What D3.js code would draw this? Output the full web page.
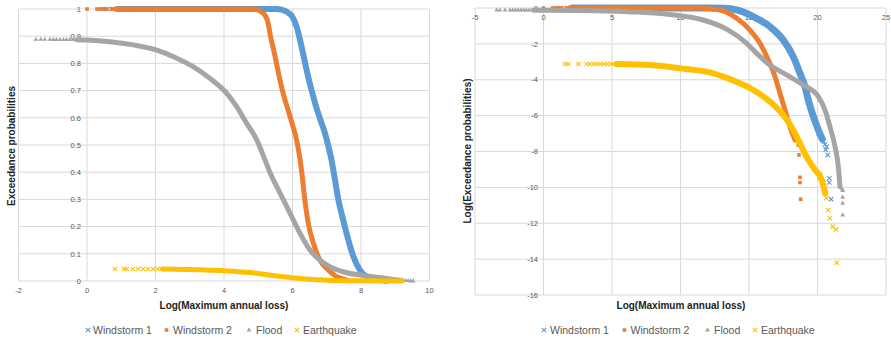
<!DOCTYPE html>
<html>
<head>
<meta charset="utf-8">
<script src="https://cdn.jsdelivr.net/npm/d3@7"></script>
<style>
  html, body { margin: 0; padding: 0; background: #fff; }
  svg { display: block; font-family: "Liberation Sans", Arial, sans-serif; }
</style>
</head>
<body>
<svg id="chart" width="891" height="338"></svg>
<script>
// ---- Series names and colours ----
const seriesNames = ["Windstorm 1", "Windstorm 2", "Flood", "Earthquake"];
const seriesColors = ["#5B9BD5", "#ED7D31", "#A5A5A5", "#FFC000"];
const seriesMarkers = ["cross", "square", "triangle", "cross"];

// ---- Left panel: x = log10(maximum annual loss), y = exceedance probability ----
const leftXTicks = [-2, 0, 2, 4, 6, 8, 10];
const leftYTicks = [0, 0.1, 0.2, 0.3, 0.4, 0.5, 0.6, 0.7, 0.8, 0.9, 1];

const leftW1Band = [[0.9,1],[2,1],[4,1],[5.54,1],[5.83,0.99],[6.02,0.966],[6.12,0.935],[6.22,0.886],[6.34,0.818],[6.44,0.76],[6.56,0.70],[6.68,0.645],[6.80,0.598],[6.95,0.543],[7.05,0.494],[7.14,0.445],[7.24,0.371],[7.34,0.298],[7.48,0.224],[7.63,0.151],[7.78,0.089],[7.97,0.04],[8.17,0.016],[8.46,0.006],[8.75,0.001]];
const leftW1Points = [[0.45,1],[0.6,1],[0.75,1]];

const leftW2Band = [[0.82,1],[2,1],[4,1],[4.85,1],[5.15,0.984],[5.29,0.947],[5.36,0.898],[5.45,0.849],[5.55,0.79],[5.65,0.73],[5.77,0.67],[5.88,0.625],[5.99,0.578],[6.12,0.518],[6.21,0.455],[6.28,0.39],[6.36,0.298],[6.46,0.212],[6.61,0.139],[6.80,0.077],[7.05,0.04],[7.29,0.016],[7.58,0.004]];
const leftW2Points = [[0,1],[0.29,1],[0.38,1],[0.48,1],[0.57,1],[0.72,1]];

const leftFloodBand = [[-0.3,0.887],[0,0.886],[0.67,0.88],[1.35,0.868],[2.04,0.849],[2.62,0.819],[3.1,0.788],[3.59,0.745],[4.08,0.69],[4.37,0.641],[4.66,0.58],[4.96,0.518],[5.18,0.451],[5.34,0.40],[5.64,0.322],[5.93,0.249],[6.22,0.175],[6.51,0.114],[6.8,0.077],[7.09,0.053],[7.48,0.034],[7.97,0.022],[8.46,0.014],[8.94,0.006],[9.2,0.002]];
const leftFloodPoints = [[-1.49,0.888],[-1.35,0.888],[-1.23,0.888],[-1.08,0.888],[-0.98,0.887],[-0.89,0.887],[-0.79,0.887],[-0.69,0.887],[-0.6,0.887],[-0.5,0.887],[-0.4,0.887],[9.3,0.001],[9.38,0.001],[9.45,0],[9.52,0]];

const leftQuakeBand = [[2.2,0.044],[3.3,0.041],[4.0,0.038],[4.76,0.031],[5.25,0.023],[5.73,0.016],[6.22,0.009],[6.71,0.005],[7.2,0.002],[8,0.001],[9.2,0.0003]];
const leftQuakePoints = [[0.82,0.044],[1.08,0.044],[1.16,0.044],[1.34,0.044],[1.49,0.044],[1.64,0.044],[1.78,0.044],[1.93,0.044],[2.07,0.044]];

// ---- Right panel: x = ln(maximum annual loss), y = ln(exceedance probability) ----
const rightXTicks = [-5, 0, 5, 10, 15, 20, 25];
const rightYTicks = [0, -2, -4, -6, -8, -10, -12, -14, -16];

const rightW1Band = [[2.1,0],[8,0],[12,0],[13.2,-0.02],[14.1,-0.11],[15.31,-0.48],[16.53,-1.04],[17.5,-1.78],[18.23,-2.71],[18.72,-3.64],[19.09,-4.39],[19.33,-5.13],[19.7,-6.06],[20.06,-6.8],[20.35,-7.3]];
const rightW1Points = [[0.9,0],[1.3,0],[1.7,0],[20.1,-7.0],[20.3,-7.2],[20.45,-7.45],[20.55,-7.6],[20.67,-7.73],[20.6,-7.9],[20.74,-8.19],[20.86,-9.49],[20.86,-9.73],[20.99,-10.66]];

const rightW2Band = [[1.9,0],[8,0],[11.0,0],[11.66,-0.02],[12.88,-0.11],[14.1,-0.57],[15.07,-1.23],[15.8,-1.97],[16.41,-2.9],[16.9,-3.83],[17.26,-4.75],[17.63,-5.69],[17.99,-6.62],[18.36,-7.36]];
const rightW2Points = [[0,0],[0.67,0],[0.87,0],[1.1,0],[1.31,0],[1.66,0],[18.6,-7.64],[18.65,-8.19],[18.72,-9.44],[18.72,-9.73],[18.77,-10.66]];

const rightFloodBand = [[-0.7,-0.12],[0.1,-0.12],[2.3,-0.134],[4.6,-0.163],[6.9,-0.23],[9.2,-0.36],[11.66,-0.67],[13.37,-1.18],[14.83,-1.97],[15.56,-2.53],[16.53,-3.18],[17.75,-3.73],[18.96,-4.29],[20.06,-4.94],[20.55,-5.69],[20.91,-6.62],[21.28,-7.73],[21.52,-8.85],[21.64,-9.96]];
const rightFloodPoints = [[-3.42,-0.12],[-3.18,-0.12],[-2.81,-0.12],[-2.45,-0.12],[-2.25,-0.12],[-2.05,-0.12],[-1.85,-0.12],[-1.65,-0.12],[-1.45,-0.12],[-1.25,-0.12],[-1.05,-0.12],[-0.85,-0.12],[21.8,-10.1],[21.84,-10.18],[21.84,-10.55],[21.84,-10.89],[21.84,-11.54]];

const rightQuakeBand = [[5.34,-3.12],[7.77,-3.18],[9.96,-3.36],[12.39,-3.64],[14.34,-4.2],[15.31,-4.57],[16.53,-5.22],[17.5,-5.96],[18.23,-6.8],[18.72,-7.54],[19.2,-8.29],[19.75,-8.95],[20.31,-9.59],[20.55,-10.33]];
const rightQuakePoints = [[1.57,-3.12],[1.81,-3.12],[2.54,-3.12],[3.15,-3.12],[3.4,-3.12],[3.65,-3.12],[3.9,-3.12],[4.15,-3.12],[4.4,-3.12],[4.65,-3.12],[4.9,-3.12],[5.1,-3.12],[20.2,-9.3],[20.45,-9.9],[20.6,-10.1],[20.65,-10.6],[20.79,-11.26],[20.91,-11.72],[21.11,-12.19],[21.35,-12.34],[21.4,-14.2]];

const leftBands = [leftW1Band, leftW2Band, leftFloodBand, leftQuakeBand];
const leftPoints = [leftW1Points, leftW2Points, leftFloodPoints, leftQuakePoints];
const rightBands = [rightW1Band, rightW2Band, rightFloodBand, rightQuakeBand];
const rightPoints = [rightW1Points, rightW2Points, rightFloodPoints, rightQuakePoints];

// ---- Drawing ----
const svg = d3.select("#chart");
const gridColor = "#D9D9D9";
const tickColor = "#595959";

function drawMarker(g, type, color, x, y) {
  if (type === "cross") {
    const s = 2.2;
    g.append("path")
      .attr("d", `M${x - s},${y - s}L${x + s},${y + s}M${x - s},${y + s}L${x + s},${y - s}`)
      .attr("stroke", color).attr("stroke-width", 1.1).attr("fill", "none");
  } else if (type === "square") {
    g.append("rect").attr("x", x - 1.8).attr("y", y - 1.8).attr("width", 3.6).attr("height", 3.6).attr("fill", color);
  } else {
    g.append("path").attr("d", d3.symbol(d3.symbolTriangle, 10)())
      .attr("transform", `translate(${x},${y})`).attr("fill", color);
  }
}

function panel(opts) {
  const { x, y, xTicks, yTicks, fmt, xLabelY, yLabelX, bands, points, widths } = opts;
  const g = svg.append("g");

  // gridlines
  g.selectAll(null).data(yTicks).join("line")
    .attr("x1", x.range()[0]).attr("x2", x.range()[1])
    .attr("y1", d => y(d)).attr("y2", d => y(d))
    .attr("stroke", gridColor).attr("stroke-width", 1);
  g.selectAll(null).data(xTicks).join("line")
    .attr("x1", d => x(d)).attr("x2", d => x(d))
    .attr("y1", y.range()[0]).attr("y2", y.range()[1])
    .attr("stroke", gridColor).attr("stroke-width", 1);

  // tick labels
  g.selectAll(null).data(xTicks).join("text")
    .attr("x", d => x(d)).attr("y", xLabelY)
    .attr("text-anchor", "middle").attr("font-size", 7.5).attr("fill", tickColor)
    .text(fmt);
  g.selectAll(null).data(yTicks).join("text")
    .attr("x", yLabelX).attr("y", d => y(d) + 2.7)
    .attr("text-anchor", "end").attr("font-size", 7.5).attr("fill", tickColor)
    .text(fmt);

  // series: dense part as a thick band, sparse part as individual markers
  const line = d3.line().x(d => x(d[0])).y(d => y(d[1])).curve(d3.curveMonotoneX);
  bands.forEach((band, i) => {
    const sg = g.append("g");
    sg.append("path").datum(band).attr("d", line)
      .attr("fill", "none").attr("stroke", seriesColors[i])
      .attr("stroke-width", widths[i])
      .attr("stroke-linejoin", "round").attr("stroke-linecap", "round");
    points[i].forEach(p => drawMarker(sg, seriesMarkers[i], seriesColors[i], x(p[0]), y(p[1])));
  });
  return g;
}

function legend(positions) {
  const g = svg.append("g");
  seriesNames.forEach((name, i) => {
    const [mx, tx] = positions[i];
    drawMarker(g, seriesMarkers[i], seriesColors[i], mx, 330);
    g.append("text").attr("x", tx).attr("y", 334).attr("font-size", 10.5)
      .attr("fill", tickColor).text(name);
  });
}

function fmtNum(d) { return d3.format("")(d).replace("\u2212", "-"); }

// left panel
const lx = d3.scaleLinear().domain([-2, 10]).range([18.5, 429.5]);
const ly = d3.scaleLinear().domain([0, 1]).range([281, 9]);
panel({ x: lx, y: ly, xTicks: leftXTicks, yTicks: leftYTicks,
  fmt: fmtNum, xLabelY: 293, yLabelX: 81,
  bands: leftBands, points: leftPoints, widths: [6, 5, 5, 5] });

// right panel
const rx = d3.scaleLinear().domain([-5, 25]).range([475, 886]);
const ry = d3.scaleLinear().domain([-16, 0]).range([295, 8]);
panel({ x: rx, y: ry, xTicks: rightXTicks, yTicks: rightYTicks,
  fmt: fmtNum, xLabelY: 20, yLabelX: 538,
  bands: rightBands, points: rightPoints, widths: [7, 5, 5, 6] });

// axis titles
const titleStyle = sel => sel.attr("font-size", 10).attr("font-weight", "bold").attr("fill", "#222").attr("text-anchor", "middle");
svg.append("text").call(titleStyle).attr("x", 224).attr("y", 309).text("Log(Maximum annual loss)");
svg.append("text").call(titleStyle).attr("x", 681).attr("y", 309).text("Log(Maximum annual loss)");
svg.append("text").call(titleStyle).attr("transform", "translate(14.5,146) rotate(-90)").text("Exceedance probabilities");
svg.append("text").call(titleStyle).attr("transform", "translate(470.5,151) rotate(-90)").text("Log(Exceedance probabilities)");

// legends
legend([[88, 93], [166.5, 173], [249, 256], [297, 303]]);
legend([[544, 550], [624.5, 630.5], [707.5, 714], [755, 761]]);
</script>
</body>
</html>
